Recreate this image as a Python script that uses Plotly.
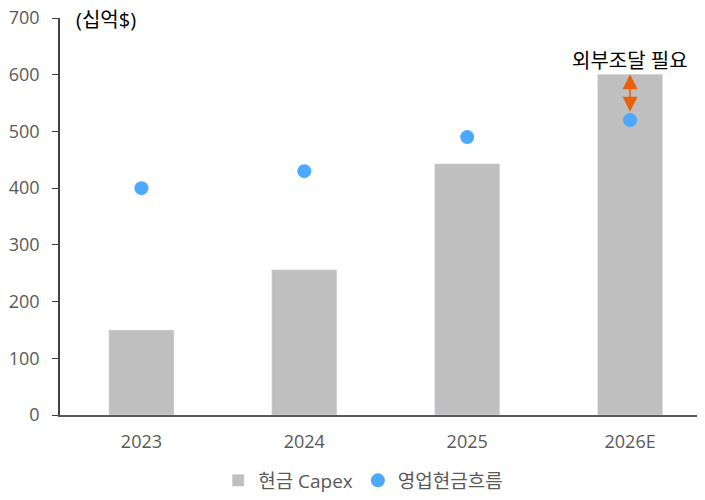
import plotly.graph_objects as go

years = ["2023", "2024", "2025", "2026E"]
capex = [150, 256, 443, 601]
op_cf = [400, 430, 490, 520]

FONT = "Open Sans, Noto Sans CJK KR"

fig = go.Figure()
fig.add_trace(go.Bar(x=years, y=capex, name="현금 Capex",
                     marker=dict(color="#BFBFBF"), width=0.4))
fig.add_trace(go.Scatter(x=years, y=op_cf, name="영업현금흐름", mode="markers",
                         marker=dict(color="#4DA8FF", size=14)))

# funding gap arrow
fig.add_annotation(x=3, y=capex[3], ax=3, ay=532, xref="x", yref="y",
                   axref="x", ayref="y", text="", showarrow=True,
                   arrowhead=2, startarrowhead=2, arrowside="end+start",
                   arrowsize=2, startarrowsize=2, arrowwidth=1.5,
                   arrowcolor="#E8600A")
fig.add_annotation(x=3, y=625, xref="x", yref="y", text="외부조달 필요",
                   showarrow=False, font=dict(size=20, color="#000000"))
fig.add_annotation(x=0.022, y=698, xref="paper", yref="y", text="(십억$)",
                   showarrow=False, xanchor="left", yanchor="middle",
                   font=dict(size=20, color="#000000"))

# page body has an 8px margin, so offsets below compensate for it
fig.update_layout(
    width=705, height=500,
    margin=dict(l=52, r=8, t=10, b=93),
    plot_bgcolor="white", paper_bgcolor="white",
    font=dict(family=FONT, size=18, color="#595959"),
    showlegend=True,
    legend=dict(orientation="h", x=0.47, xanchor="center", y=-0.165,
                yanchor="middle", font=dict(size=19, color="#595959"),
                itemwidth=30, tracegroupgap=0),
    bargap=0.6,
)
fig.update_xaxes(range=[-0.5, 3.46], showline=True, linecolor="#595959",
                 linewidth=1.5, ticks="", showgrid=False, automargin=False,
                 ticklabelstandoff=10,
                 tickfont=dict(size=18, color="#595959"))
fig.update_yaxes(range=[0, 700], dtick=100, showline=True, linecolor="#404040",
                 linewidth=1.5, ticks="outside", ticklen=6, tickcolor="#404040",
                 showgrid=False, zeroline=False, automargin=False,
                 ticklabelstandoff=9, ticklabeloverflow="allow",
                 tickfont=dict(size=18, color="#595959"))

fig.write_html("out.html")
